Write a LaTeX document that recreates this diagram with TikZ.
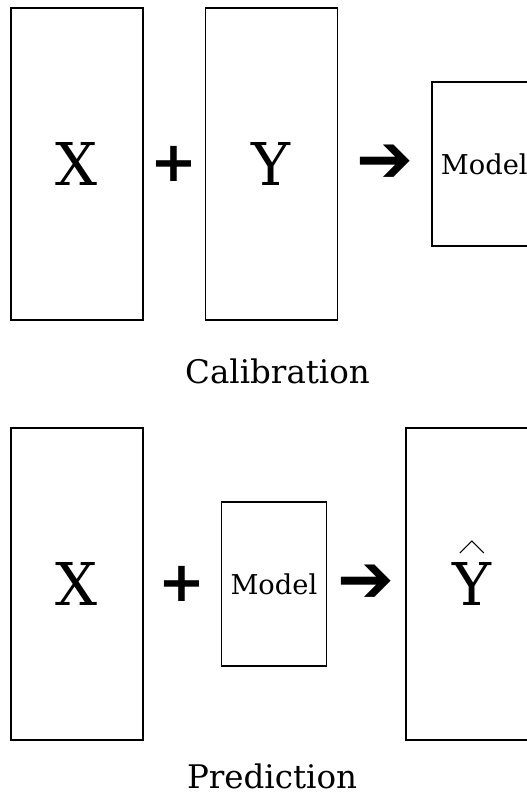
\documentclass[tikz,border=0pt]{standalone}
\usepackage{fontspec}
\setmainfont{DejaVu Serif}
\newfontfamily\symfont{DejaVu Sans}
\usetikzlibrary{positioning,calc}

\begin{document}
\begin{tikzpicture}[
  x=1pt,y=-1pt,
  bigbox/.style={draw,line width=1.4pt,minimum width=132pt,minimum height=312pt,inner sep=0pt,font=\fontsize{59}{60}\selectfont},
  modelbox/.style={draw,line width=1.4pt,minimum width=105pt,minimum height=164pt,inner sep=0pt,font=\fontsize{27.3}{28}\selectfont},
  plussym/.style={inner sep=0pt,font=\symfont\bfseries\fontsize{56}{56}\selectfont},
  arrsym/.style={inner sep=0pt,font=\symfont\fontsize{68}{68}\selectfont},
  caption/.style={anchor=base,inner sep=0pt,font=\fontsize{32.5}{33}\selectfont}
]
\clip (0,0) rectangle (527,793);
% calibration
\node[bigbox] (xa) at (77,164) {X};
\node[bigbox,right=61pt of xa] (ya) {Y};
\node[modelbox,right=93pt of ya] (ma) {Model};
\node[plussym] (pa) at ($(xa.east)!0.5!(ya.west)$) {+};
\node[arrsym] (aa) at ($(ya.east)!0.5!(ma.west)$) {➔};
\node[caption] (ca) at (277.5,383) {Calibration};
% prediction
\node[bigbox] (xb) at (77,584) {X};
\node[modelbox,right=77pt of xb] (mb) {Model};
\node[bigbox,right=78pt of mb] (yb) {Y};
\draw[line width=1pt] ($(yb.center)+(-12,-31)$) -- ++(12,-12) -- ++(12,12);
\node[plussym] (pb) at ($(xb.east)!0.5!(mb.west)$) {+};
\node[arrsym] (ab) at ($(mb.east)!0.5!(yb.west)$) {➔};
\node[caption] (cb) at (272,788.5) {Prediction};
\end{tikzpicture}
\end{document}
